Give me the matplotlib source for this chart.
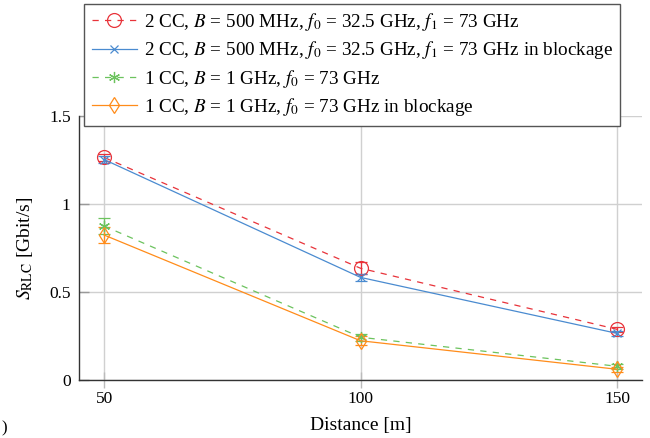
import matplotlib
matplotlib.use("Agg")
import matplotlib.pyplot as plt
from matplotlib.lines import Line2D

plt.rcParams['font.family'] = ['Liberation Serif', 'DejaVu Serif']
plt.rcParams['mathtext.fontset'] = 'stix'

distance = [50, 100, 150]

s_2cc = [1.265, 0.635, 0.288]
e_2cc = [0.02, 0.035, 0.015]
s_2cc_block = [1.253, 0.583, 0.265]
e_2cc_block = [0.02, 0.02, 0.015]
s_1cc = [0.875, 0.243, 0.078]
e_1cc = [0.045, 0.02, 0.015]
s_1cc_block = [0.824, 0.223, 0.061]
e_1cc_block = [0.045, 0.025, 0.015]

labels = [
    r"2 CC, $B$ = 500 MHz, $f_0$ = 32.5 GHz, $f_1$ = 73 GHz",
    r"2 CC, $B$ = 500 MHz, $f_0$ = 32.5 GHz, $f_1$ = 73 GHz in blockage",
    r"1 CC, $B$ = 1 GHz, $f_0$ = 73 GHz",
    r"1 CC, $B$ = 1 GHz, $f_0$ = 73 GHz in blockage",
]

fig = plt.figure(figsize=(6.5, 4.38), dpi=100)
ax = fig.add_axes([0.1215, 0.1324, 0.8665, 0.6026])

red = '#e8333a'
blue = '#4a8bd0'
green = '#6cc35e'
orange = '#ff8c1a'

series = [
    (s_2cc, e_2cc, red, (0, (5, 5)), 'o', 10, 'none'),
    (s_2cc_block, e_2cc_block, blue, '-', 'x', 6, None),
    (s_1cc, e_1cc, green, (0, (5, 5)), (6, 2, 0), 8, None),
    (s_1cc_block, e_1cc_block, orange, '-', 'd', 8, 'none'),
]

handles = []
for (vals, errs, col, ls, mk, ms, mfc), lab in zip(series, labels):
    kwm = dict(markerfacecolor=mfc) if mfc else {}
    ax.errorbar(distance, vals, yerr=errs, color=col, linestyle=ls, linewidth=0.9,
                elinewidth=0.9, capsize=4, marker=mk, markersize=ms,
                markeredgewidth=0.9, **kwm)
    handles.append(Line2D([], [], color=col, linestyle=ls, linewidth=0.9, marker=mk,
                          markersize=ms, markeredgewidth=0.9, label=lab, **kwm))

ax.set_xlim(45.1, 154.9)
ax.set_ylim(0, 1.5)
ax.set_xticks(distance)
ax.set_yticks([0, 0.5, 1, 1.5])
ax.set_yticklabels(['0', '0.5', '1', '1.5'])
ax.grid(True, color='#d0d0d0', linewidth=1.0)
ax.set_axisbelow(True)
for side in ['top', 'right']:
    ax.spines[side].set_visible(False)
for side in ['left', 'bottom']:
    ax.spines[side].set_color('#333333')
    ax.spines[side].set_linewidth(1.0)
ax.tick_params(axis='y', direction='in', length=7, color='#999999', width=1.0, labelsize=12.5, pad=6)
ax.tick_params(axis='x', direction='inout', length=12, color='#bbbbbb', width=1.0, labelsize=12.5, pad=2)

ax.set_xlabel('Distance [m]', fontsize=14, labelpad=7)
ax.set_ylabel(r'$S_{\mathrm{RLC}}$ [Gbit/s]', fontsize=14, labelpad=10)

leg = fig.legend(handles=handles, loc='upper left', bbox_to_anchor=(0.1292, 0.992),
                 fontsize=13.8, frameon=True, fancybox=False, edgecolor='#555555',
                 framealpha=1, handlelength=2.35, handletextpad=0.36, labelspacing=0.33,
                 borderpad=0.4, borderaxespad=0)
leg.get_frame().set_linewidth(1.0)

fig.text(0.002, 0.003, ')', fontsize=12, ha='left', va='bottom')

fig.savefig('out.png', dpi=100)
